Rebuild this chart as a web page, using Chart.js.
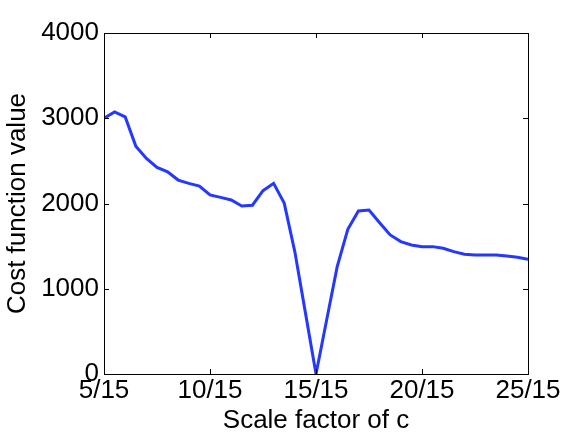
<!DOCTYPE html>
<html>
<head>
<meta charset="utf-8">
<script src="https://cdn.jsdelivr.net/npm/chart.js@4/dist/chart.umd.min.js"></script>
<style>
  html, body { margin: 0; padding: 0; background: #fff; }
  #wrap { width: 582px; height: 438px; }
</style>
</head>
<body>
<div id="wrap"><canvas id="chart" width="582" height="438"></canvas></div>
<script>
// scale factor numerators (x/15)
const scaleNum = [5, 5.5, 6, 6.5, 7, 7.5, 8, 8.5, 9, 9.5, 10, 10.5, 11, 11.5, 12, 12.5, 13, 13.5, 14, 14.5,
                  15, 15.5, 16, 16.5, 17, 17.5, 18, 18.5, 19, 19.5, 20, 20.5, 21, 21.5, 22, 22.5, 23, 23.5, 24, 24.5, 25];
const costValues = [3000, 3075, 3016, 2673, 2529, 2424, 2372, 2275, 2236, 2205, 2100, 2072, 2041, 1971, 1980, 2150, 2236, 2005, 1436, 720,
                    0, 630, 1260, 1698, 1912, 1924, 1775, 1631, 1553, 1514, 1494, 1494, 1475, 1436, 1405, 1397, 1397, 1397, 1385, 1370, 1347];
const xTicks = [5, 10, 15, 20, 25];
const yTicks = [0, 1000, 2000, 3000, 4000];

const FONT = "'Liberation Sans', Arial, Helvetica, sans-serif";

// box around the plot + inward tick marks
const boxPlugin = {
    id: "box",
    afterDraw(chart) {
        const ctx = chart.ctx;
        const a = chart.chartArea;
        const xs = chart.scales.x, ys = chart.scales.y;
        ctx.save();
        ctx.strokeStyle = "#000";
        ctx.lineWidth = 1;
        ctx.strokeRect(Math.round(a.left) + 0.5, Math.round(a.top) + 0.5,
                       Math.round(a.right - a.left), Math.round(a.bottom - a.top));
        ctx.beginPath();
        xTicks.forEach(v => {
            const px = Math.round(xs.getPixelForValue(v)) + 0.5;
            ctx.moveTo(px, a.bottom); ctx.lineTo(px, a.bottom - 5);
            ctx.moveTo(px, a.top); ctx.lineTo(px, a.top + 5);
        });
        yTicks.forEach(v => {
            const py = Math.round(ys.getPixelForValue(v)) + 0.5;
            ctx.moveTo(a.left, py); ctx.lineTo(a.left + 5, py);
            ctx.moveTo(a.right, py); ctx.lineTo(a.right - 5, py);
        });
        ctx.stroke();
        ctx.restore();
    }
};

new Chart(document.getElementById("chart"), {
    type: "line",
    data: {
        datasets: [{
            data: scaleNum.map((x, i) => ({ x: x, y: costValues[i] })),
            borderColor: "#2438ff",
            borderWidth: 3,
            pointRadius: 0,
            tension: 0,
            fill: false
        }]
    },
    options: {
        responsive: false,
        animation: false,
        layout: { padding: { left: 0, top: 33, right: 54, bottom: 0 } },
        plugins: { legend: { display: false }, tooltip: { enabled: false } },
        scales: {
            x: {
                type: "linear",
                min: 5, max: 25,
                afterFit: s => { s.height = 64; },
                afterBuildTicks: s => { s.ticks = xTicks.map(v => ({ value: v })); },
                grid: { display: false, drawTicks: false },
                border: { display: false },
                ticks: {
                    color: "#000",
                    font: { family: FONT, size: 26 },
                    padding: 1,
                    maxRotation: 0,
                    callback: v => v + "/15"
                },
                title: {
                    display: true,
                    text: "Scale factor of c",
                    color: "#000",
                    font: { family: FONT, size: 26 },
                    padding: { top: 0, bottom: 2 }
                }
            },
            y: {
                min: 0, max: 4000,
                afterFit: s => { s.width = 104; },
                afterBuildTicks: s => { s.ticks = yTicks.map(v => ({ value: v })); },
                grid: { display: false, drawTicks: false },
                border: { display: false },
                ticks: {
                    color: "#000",
                    font: { family: FONT, size: 26 },
                    padding: 5,
                    callback: v => String(v)
                },
                title: {
                    display: true,
                    text: "Cost function value",
                    color: "#000",
                    font: { family: FONT, size: 26 },
                    padding: { top: 2, bottom: 0 }
                }
            }
        }
    },
    plugins: [boxPlugin]
});
</script>
</body>
</html>
